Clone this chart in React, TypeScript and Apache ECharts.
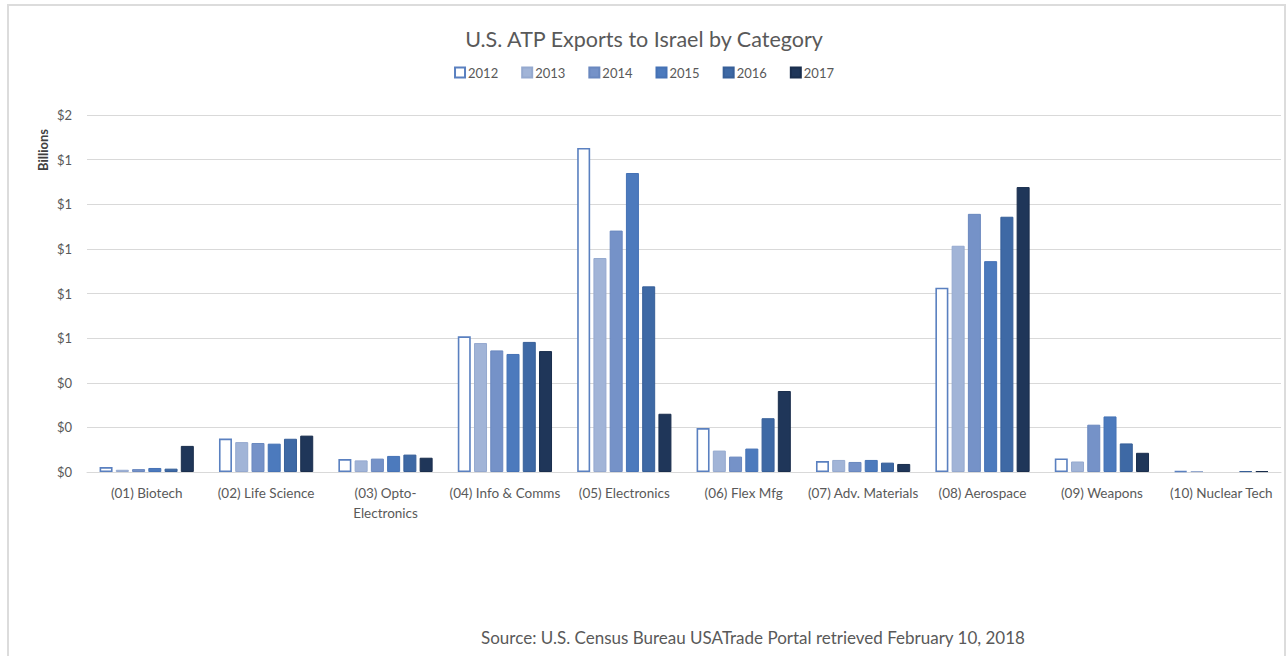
import React, { useEffect, useRef } from "react";
import * as echarts from "echarts";

const categories = [
  "(01) Biotech",
  "(02) Life Science",
  "(03) Opto-\nElectronics",
  "(04) Info & Comms",
  "(05) Electronics",
  "(06) Flex Mfg",
  "(07) Adv. Materials",
  "(08) Aerospace",
  "(09) Weapons",
  "(10) Nuclear Tech",
];

const years = ["2012", "2013", "2014", "2015", "2016", "2017"];

const v2012 = [0.022, 0.15, 0.058, 0.608, 1.452, 0.197, 0.049, 0.826, 0.061, 0.004];
const v2013 = [0.01, 0.134, 0.052, 0.578, 0.959, 0.096, 0.054, 1.014, 0.047, 0.004];
const v2014 = [0.013, 0.13, 0.06, 0.545, 1.082, 0.069, 0.045, 1.157, 0.212, null];
const v2015 = [0.018, 0.127, 0.072, 0.529, 1.34, 0.105, 0.054, 0.945, 0.249, null];
const v2016 = [0.015, 0.149, 0.078, 0.583, 0.832, 0.241, 0.042, 1.144, 0.128, 0.004];
const v2017 = [0.117, 0.163, 0.064, 0.542, 0.261, 0.363, 0.036, 1.277, 0.086, 0.004];

const yTicks = { min: 0, max: 1.6, interval: 0.2 };

const seriesData = [v2012, v2013, v2014, v2015, v2016, v2017];
const fills = ["#ffffff", "#a1b4d7", "#7592c8", "#4c7abd", "#3e69a5", "#1f3659"];
const borders = ["#5a80c0", "#95a9cf", "#6a88bf", "#4572b5", "#375f98", "#1a2e4d"];

export default function App() {
  const ref = useRef<HTMLDivElement>(null);
  useEffect(() => {
    document.body.style.margin = "0";
    const chart = echarts.init(ref.current!, null, { renderer: "svg" });
    const font = "Lato, 'Open Sans', sans-serif";
    chart.setOption({
      animation: false,
      backgroundColor: "#ffffff",
      textStyle: { fontFamily: font },
      title: {
        text: "U.S. ATP Exports to Israel by Category",
        left: "center",
        top: 23,
        textStyle: { fontFamily: font, fontSize: 21.5, fontWeight: "normal", color: "#595959" },
      },
      legend: {
        top: 61,
        left: "center",
        itemWidth: 10,
        itemHeight: 10,
        itemGap: 23,
        icon: "rect",
        textStyle: { fontFamily: font, fontSize: 13, color: "#595959", padding: [0, 0, 0, -2] },
        data: years,
      },
      grid: { left: 87, right: 7, top: 115, bottom: 184, containLabel: false },
      xAxis: {
        type: "category",
        data: categories,
        axisLine: { lineStyle: { color: "#d9d9d9", width: 1 } },
        axisTick: { show: false },
        axisLabel: {
          interval: 0,
          color: "#595959",
          fontSize: 13.5,
          fontFamily: font,
          margin: 11,
          lineHeight: 20,
        },
      },
      yAxis: {
        type: "value",
        min: yTicks.min,
        max: yTicks.max,
        interval: yTicks.interval,
        axisLine: { show: false },
        axisTick: { show: false },
        splitLine: { lineStyle: { color: "#d9d9d9", width: 1 } },
        axisLabel: {
          color: "#595959",
          fontSize: 13,
          fontFamily: font,
          margin: 15,
          formatter: (v: number) => "$" + Math.round(v),
        },
      },
      graphic: [
        {
          type: "rect",
          shape: { x: 8, y: 5, width: 1277, height: 670 },
          style: { fill: "none", stroke: "#dcdcdc", lineWidth: 2 },
          silent: true,
        },
        {
          type: "text",
          x: 43,
          y: 150,
          rotation: Math.PI / 2,
          style: {
            text: "Billions",
            fill: "#404040",
            font: `bold 13px ${font}`,
            align: "center",
            verticalAlign: "middle",
          },
        },
        {
          type: "text",
          x: 753,
          y: 637,
          style: {
            text: "Source: U.S. Census Bureau USATrade Portal retrieved February 10, 2018",
            fill: "#595959",
            font: `17px ${font}`,
            align: "center",
            verticalAlign: "middle",
          },
        },
      ],
      series: years.map((y, i) => ({
        name: y,
        type: "bar",
        data: seriesData[i],
        barWidth: 13,
        barGap: "25%",
        itemStyle: {
          color: fills[i],
          borderColor: borders[i],
          borderWidth: i === 0 ? 1.6 : 1,
        },
      })),
    });
    return () => chart.dispose();
  }, []);
  return <div ref={ref} style={{ width: 1288, height: 656 }} />;
}
